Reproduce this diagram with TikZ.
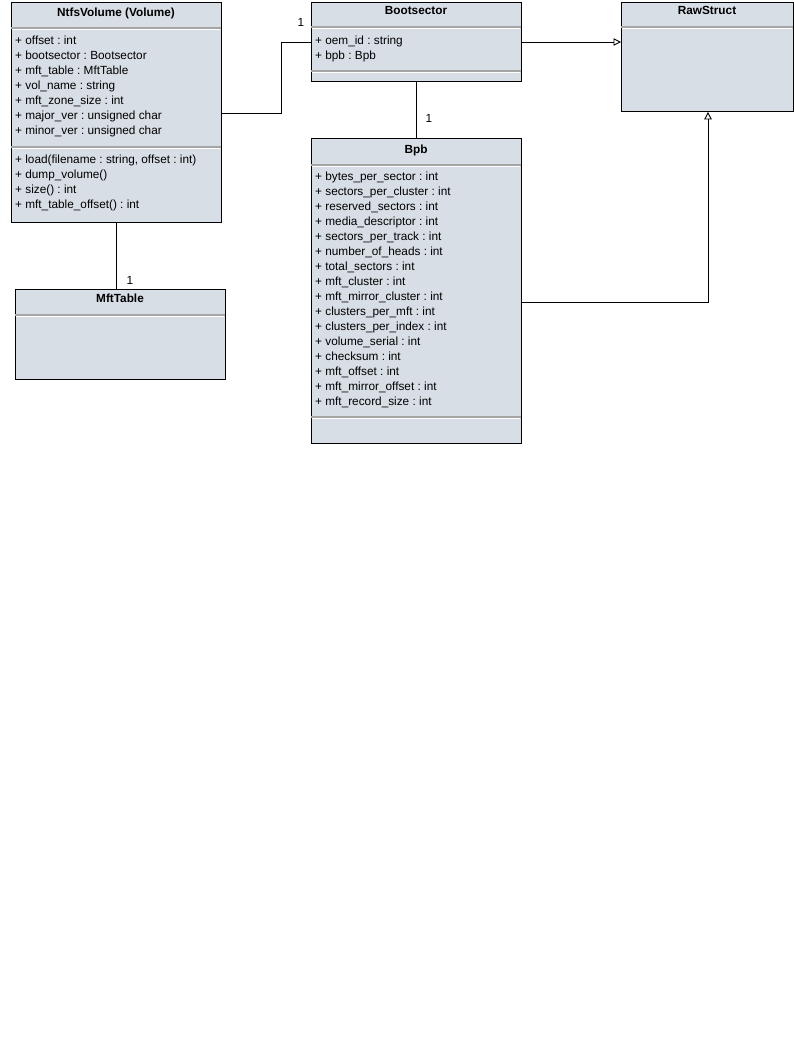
\documentclass[tikz,border=0pt]{standalone}
\usepackage{fontspec}
\setmainfont{Liberation Sans}
\usetikzlibrary{arrows.meta,calc}
\definecolor{clsfill}{RGB}{216,222,229}
\definecolor{sepgray}{RGB}{165,165,165}
\newcommand\umlsep[3]{%
  \draw[sepgray, line width=1.2pt] ($(#1.north west)+(0,#2)$) -- ++(#3,0);
  \draw[white, line width=0.8pt] ($(#1.north west)+(0.6,#2+1.4)$) -- ++(#3-1.2,0);
}
\newcommand\umlfont{\fontsize{11.8}{13}\selectfont\frenchspacing}
\tikzset{
  cls/.style={draw=black, line width=0.9pt, fill=clsfill, inner sep=0, anchor=north west, minimum width=210pt},
  ttl/.style={inner sep=0, font=\umlfont\bfseries, text height=8pt, text depth=2pt, yshift=-0.8pt},
  attr/.style={anchor=west, inner sep=0, font=\umlfont, text height=8pt, text depth=2pt, yshift=-0.8pt},
  mult/.style={inner sep=0, font=\umlfont, text height=8pt, text depth=2pt},
  conn/.style={draw=black, line width=0.9pt},
  gen/.style={conn, -{Triangle[open, length=7.5pt, width=7.5pt]}}
}
\begin{document}
\begin{tikzpicture}[x=1pt, y=-1pt]
\useasboundingbox (0,0) rectangle (794,1047);
% boxes
\node[cls, minimum height=220pt] (vol) at (11,2) {};
\node[cls, minimum height=79pt] (boot) at (311,2) {};
\node[cls, minimum width=172pt, minimum height=109pt] (raw) at (621,2) {};
\node[cls, minimum height=305pt] (bpb) at (311,138) {};
\node[cls, minimum height=90pt] (mft) at (15,289) {};
% separators
\umlsep{vol}{26}{210}
\umlsep{vol}{145}{210}
\umlsep{boot}{25}{210}
\umlsep{boot}{69}{210}
\umlsep{raw}{25}{172}
\umlsep{bpb}{27}{210}
\umlsep{bpb}{279}{210}
\umlsep{mft}{26}{210}
% titles
\node[ttl] (volt) at (116,13) {NtfsVolume (Volume)};
\node[ttl] (boott) at (416,11) {Bootsector};
\node[ttl] (rawt) at (707,11) {RawStruct};
\node[ttl] (bpbt) at (416,149.5) {Bpb};
\node[ttl] (mftt) at (120,298.5) {MftTable};
% NtfsVolume attributes
\node[attr] (v1) at (15,41) {+ offset : int};
\node[attr] (v2) at (15,56) {+ bootsector : Bootsector};
\node[attr] (v3) at (15,71) {+ mft\_table : MftTable};
\node[attr] (v4) at (15,86) {+ vol\_name : string};
\node[attr] (v5) at (15,101) {+ mft\_zone\_size : int};
\node[attr] (v6) at (15,116) {+ major\_ver : unsigned char};
\node[attr] (v7) at (15,131) {+ minor\_ver : unsigned char};
\node[attr] (m1) at (15,160) {+ load(filename : string, offset : int)};
\node[attr] (m2) at (15,175) {+ dump\_volume()};
\node[attr] (m3) at (15,190) {+ size() : int};
\node[attr] (m4) at (15,205) {+ mft\_table\_offset() : int};
% Bootsector attributes
\node[attr] (b1) at (315,41) {+ oem\_id : string};
\node[attr] (b2) at (315,56) {+ bpb : Bpb};
% Bpb attributes
\node[attr] (p1) at (315,177) {+ bytes\_per\_sector : int};
\node[attr] (p2) at (315,192) {+ sectors\_per\_cluster : int};
\node[attr] (p3) at (315,207) {+ reserved\_sectors : int};
\node[attr] (p4) at (315,222) {+ media\_descriptor : int};
\node[attr] (p5) at (315,237) {+ sectors\_per\_track : int};
\node[attr] (p6) at (315,252) {+ number\_of\_heads : int};
\node[attr] (p7) at (315,267) {+ total\_sectors : int};
\node[attr] (p8) at (315,282) {+ mft\_cluster : int};
\node[attr] (p9) at (315,297) {+ mft\_mirror\_cluster : int};
\node[attr] (p10) at (315,312) {+ clusters\_per\_mft : int};
\node[attr] (p11) at (315,327) {+ clusters\_per\_index : int};
\node[attr] (p12) at (315,342) {+ volume\_serial : int};
\node[attr] (p13) at (315,357) {+ checksum : int};
\node[attr] (p14) at (315,372) {+ mft\_offset : int};
\node[attr] (p15) at (315,387) {+ mft\_mirror\_offset : int};
\node[attr] (p16) at (315,402) {+ mft\_record\_size : int};
% connectors
\coordinate (volout) at ($(vol.north east)+(0,111)$);
\coordinate (bootin) at ($(boot.north west)+(0,40)$);
\draw[conn] (volout) -- ++(60,0) |- (bootin);
\draw[conn] (boot.south) -- (bpb.north);
\draw[conn] (vol.south) -- (vol.south |- mft.north);
\coordinate (bootout) at ($(boot.north east)+(0,40)$);
\draw[gen] (bootout) -- (bootout -| raw.west);
\coordinate (bpbout) at ($(bpb.north east)+(0,164)$);
\coordinate (rawin) at ($(raw.south west)+(87,0)$);
\draw[gen] (bpbout) -| (rawin);
% multiplicities
\node[mult] (l1) at (301,23) {1};
\node[mult] (l2) at (429,119) {1};
\node[mult] (l3) at (130,281) {1};
\end{tikzpicture}
\end{document}
